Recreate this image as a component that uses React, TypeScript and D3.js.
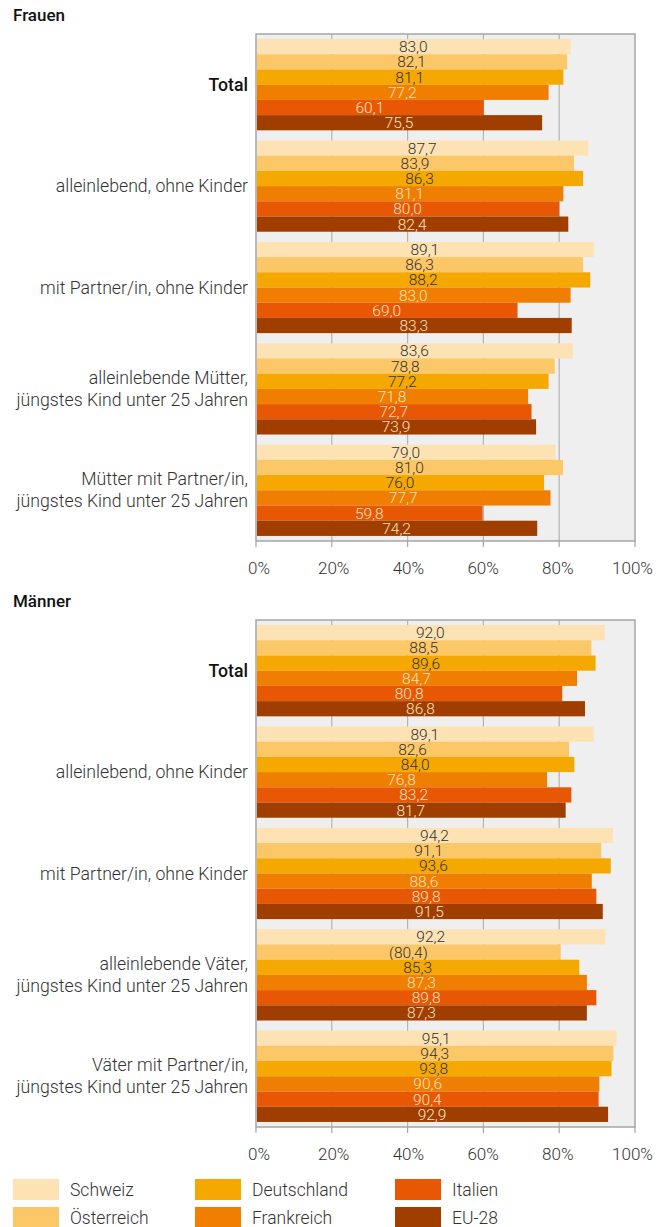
import React from "react";
import * as d3 from "d3";

const series = ["Schweiz", "Österreich", "Deutschland", "Frankreich", "Italien", "EU-28"];
const colors = ["#FDE2B4", "#FCC766", "#F5A800", "#F07E00", "#E85804", "#A03E00"];
const labelColors = ["#333333", "#333333", "#333333", "#FDE2C0", "#FDE2C0", "#FDE2C0"];

const frauenCats = [
  ["Total"],
  ["alleinlebend, ohne Kinder"],
  ["mit Partner/in, ohne Kinder"],
  ["alleinlebende Mütter,", "jüngstes Kind unter 25 Jahren"],
  ["Mütter mit Partner/in,", "jüngstes Kind unter 25 Jahren"],
];
const frauenValues = [
  [83.0, 82.1, 81.1, 77.2, 60.1, 75.5],
  [87.7, 83.9, 86.3, 81.1, 80.0, 82.4],
  [89.1, 86.3, 88.2, 83.0, 69.0, 83.3],
  [83.6, 78.8, 77.2, 71.8, 72.7, 73.9],
  [79.0, 81.0, 76.0, 77.7, 59.8, 74.2],
];

const maennerCats = [
  ["Total"],
  ["alleinlebend, ohne Kinder"],
  ["mit Partner/in, ohne Kinder"],
  ["alleinlebende Väter,", "jüngstes Kind unter 25 Jahren"],
  ["Väter mit Partner/in,", "jüngstes Kind unter 25 Jahren"],
];
const maennerValues = [
  [92.0, 88.5, 89.6, 84.7, 80.8, 86.8],
  [89.1, 82.6, 84.0, 76.8, 83.2, 81.7],
  [94.2, 91.1, 93.6, 88.6, 89.8, 91.5],
  [92.2, 80.4, 85.3, 87.3, 89.8, 87.3],
  [95.1, 94.3, 93.8, 90.6, 90.4, 92.9],
];
const maennerBracketed = [[], [], [], [1], []];

const xTicks = [0, 20, 40, 60, 80, 100];

const FONT = "Roboto, 'Noto Sans', sans-serif";

function fmt(v: number) {
  return v.toFixed(1).replace(".", ",");
}

function Panel({ title, titleY, top, cats, values, bracketed }: any) {
  const left = 256;
  const right = 635;
  const height = 507;
  const x = d3.scaleLinear().domain([0, 100]).range([left, right]);
  const xLabel = d3.scaleLinear().domain([0, 100]).range([left + 3, right - 2.5]);
  const y0 = d3
    .scaleBand<number>()
    .domain(d3.range(cats.length))
    .range([top, top + height])
    .paddingInner(0.1)
    .paddingOuter(0.05);
  const y1 = d3.scaleBand<number>().domain(d3.range(series.length)).range([0, y0.bandwidth()]);
  const bottom = top + height;
  return (
    <g>
      <text x={13} y={titleY} fontSize={17} fontWeight={500} fill="#111" fontFamily={FONT}>
        {title}
      </text>
      <rect x={left} y={top} width={right - left} height={height} fill="#efefef" />
      {xTicks.map((t) => (
        <g key={t}>
          {t > 0 && t < 100 && (
            <line x1={x(t)} x2={x(t)} y1={top} y2={bottom} stroke="#b3b3b3" strokeWidth={1.2} />
          )}
          <line x1={x(t)} x2={x(t)} y1={bottom} y2={bottom + 6} stroke="#a6a6a6" strokeWidth={1.2} />
          <text
            x={xLabel(t)}
            y={bottom + 33}
            textAnchor="middle"
            fontSize={17}
            fontWeight={300}
            fill="#333"
            fontFamily={FONT}
          >
            {t}%
          </text>
        </g>
      ))}
      <rect x={left} y={top} width={right - left} height={height} fill="none" stroke="#a6a6a6" strokeWidth={1.5} />
      {cats.map((lines: string[], i: number) => {
        const gy = (y0(i) as number) + y0.bandwidth() / 2;
        const lh = 22;
        const startY = gy - ((lines.length - 1) * lh) / 2;
        return (
          <g key={i}>
            {values[i].map((v: number, j: number) => {
              const by = (y0(i) as number) + (y1(j) as number);
              const br = bracketed[i] && bracketed[i].includes(j);
              return (
                <g key={j}>
                  <rect x={x(0) + 1} y={by} width={x(v) - x(0) - 1} height={y1.bandwidth()} fill={colors[j]} />
                  <text
                    x={(x(0) + x(v)) / 2}
                    y={by + y1.bandwidth() / 2 + 5.5}
                    textAnchor="middle"
                    fontSize={15.5}
                    fontWeight={300}
                    fill={labelColors[j]}
                    fontFamily={FONT}
                  >
                    {br ? `(${fmt(v)})` : fmt(v)}
                  </text>
                </g>
              );
            })}
            {lines.map((l, k) => (
              <text
                key={k}
                x={248}
                y={startY + k * lh + 6}
                textAnchor="end"
                fontSize={17.7}
                fontWeight={lines[0] === "Total" ? 500 : 300}
                fill={lines[0] === "Total" ? "#111" : "#333"}
                fontFamily={FONT}
              >
                {l}
              </text>
            ))}
          </g>
        );
      })}
    </g>
  );
}

export default function App() {
  const legendCols = [13, 195, 395];
  return (
    <svg width={670} height={1227} style={{ position: "absolute", left: 0, top: 0 }}>
      <rect width={670} height={1227} fill="#fff" />
      <Panel title="Frauen" titleY={21} top={34} cats={frauenCats} values={frauenValues} bracketed={[[], [], [], [], []]} />
      <Panel title="Männer" titleY={607} top={620} cats={maennerCats} values={maennerValues} bracketed={maennerBracketed} />
      {series.map((s, i) => {
        const col = Math.floor(i / 2);
        const row = i % 2;
        const lx = legendCols[col];
        const ly = 1179 + row * 28;
        return (
          <g key={s}>
            <rect x={lx} y={ly} width={46} height={21} fill={colors[i]} />
            <text x={lx + 57} y={ly + 16.5} fontSize={17.5} fontWeight={300} fill="#333" fontFamily={FONT}>
              {s}
            </text>
          </g>
        );
      })}
    </svg>
  );
}
